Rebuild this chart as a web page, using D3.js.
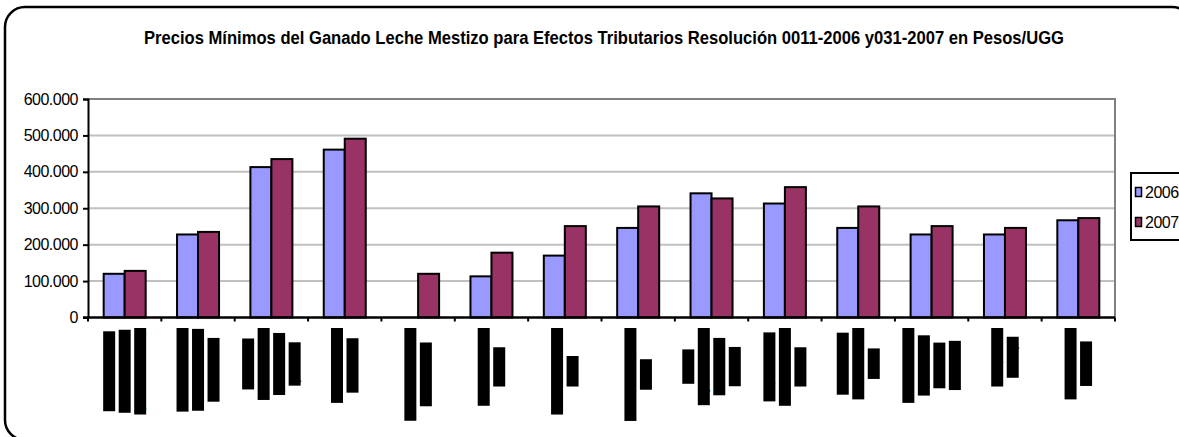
<!DOCTYPE html>
<html>
<head>
<meta charset="utf-8">
<script src="https://cdn.jsdelivr.net/npm/d3@7"></script>
<style>
  html, body { margin: 0; padding: 0; background: #fff; }
  svg { display: block; font-family: "Liberation Sans", Arial, sans-serif; }
</style>
</head>
<body>
<svg id="chart" width="1179" height="437"></svg>
<script>
// Minimum prices of dairy crossbred cattle (Pesos/UGG), by category
const categories = [
  ["Terneras hasta", "un año de edad", "(hembras leche)"],
  ["Hembras de 1 a", "2 años de edad", "sin servicio"],
  ["Hembras", "de 2 a 3 años", "preñadas o", "paridas"],
  ["Vacas de más", "de 3 años"],
  ["Terneros machos", "hasta 1 año"],
  ["Machos de 1 a", "2 años"],
  ["Machos de 2 a 3", "años"],
  ["Machos de más 3", "años"],
  ["Toros", "reproductores", "de más de", "3 años"],
  ["Reproductor", "mestizo de 2 a", "3 años"],
  ["Novillos de", "ceba de 2 a 3", "años"],
  ["Vacas de más", "de 10 años", "de edad", "descarte"],
  ["Bueyes de", "trabajo"],
  ["Vacas horras", "o secas"]
];
const seriesNames = ["2006", "2007"];
const values2006 = [120000, 228000, 413000, 461000, null, 113000, 170000, 246000, 341000, 313000, 246000, 228000, 228000, 267000];
const values2007 = [128000, 235000, 435000, 491000, 120000, 178000, 251000, 305000, 327000, 358000, 305000, 251000, 246000, 273000];
const yTicks = [0, 100000, 200000, 300000, 400000, 500000, 600000];
const seriesColors = ["#9999ff", "#993366"];
const titleText = "Precios Mínimos del Ganado Leche Mestizo para Efectos Tributarios Resolución 0011-2006 y031-2007 en Pesos/UGG";

const svg = d3.select("#chart");

// Outer rounded chart frame
svg.append("rect")
  .attr("x", 5).attr("y", 7).attr("width", 1187).attr("height", 433)
  .attr("rx", 20).attr("ry", 20)
  .attr("fill", "#fff").attr("stroke", "#000").attr("stroke-width", 2.5);

// Title
svg.append("text")
  .attr("x", 604).attr("y", 44)
  .attr("text-anchor", "middle")
  .attr("font-size", 18).attr("font-weight", "bold")
  .attr("textLength", 920).attr("lengthAdjust", "spacingAndGlyphs")
  .text(titleText);

const plot = { left: 88, right: 1115, top: 99, bottom: 317.5 };

const x0 = d3.scaleBand()
  .domain(d3.range(categories.length))
  .range([plot.left, plot.right])
  .paddingInner(0).paddingOuter(0);

const barW = 21;
const x1 = d3.scaleBand()
  .domain(seriesNames)
  .range([x0.bandwidth() / 2 - barW, x0.bandwidth() / 2 + barW]);

const y = d3.scaleLinear().domain([0, 600000]).range([plot.bottom, plot.top]);

// Horizontal gridlines
svg.append("g")
  .selectAll("line")
  .data(yTicks.filter(t => t > 0 && t < 600000))
  .join("line")
  .attr("x1", plot.left).attr("x2", plot.right)
  .attr("y1", d => y(d)).attr("y2", d => y(d))
  .attr("stroke", "#c0c0c0").attr("stroke-width", 2);

// Top and right plot-area border
svg.append("path")
  .attr("d", `M${plot.left},${y(600000)} H${plot.right} V${plot.bottom}`)
  .attr("fill", "none").attr("stroke", "#808080").attr("stroke-width", 2);

// Bars
const series = [values2006, values2007];
const barGroups = svg.append("g").selectAll("g")
  .data(categories.map((c, i) => i))
  .join("g")
  .attr("transform", i => `translate(${x0(i)},0)`);

barGroups.selectAll("rect")
  .data(i => seriesNames.map((s, k) => ({ s, k, v: series[k][i] })).filter(d => d.v != null))
  .join("rect")
  .attr("x", d => x1(d.s))
  .attr("width", x1.bandwidth())
  .attr("y", d => y(d.v))
  .attr("height", d => y(0) - y(d.v))
  .attr("fill", d => seriesColors[d.k])
  .attr("stroke", "#000").attr("stroke-width", 2);

// Y axis
const yAxis = d3.axisLeft(y)
  .tickValues(yTicks)
  .tickSize(5)
  .tickPadding(5)
  .tickFormat(d => d3.format(",")(d).replace(/,/g, "."));

const gy = svg.append("g")
  .attr("transform", `translate(${plot.left},0)`)
  .call(yAxis);
gy.select(".domain").attr("stroke", "#000").attr("stroke-width", 2);
gy.selectAll(".tick line").attr("stroke", "#000").attr("stroke-width", 2);
gy.selectAll(".tick text")
  .attr("font-family", "Liberation Sans, Arial, sans-serif")
  .attr("font-size", 16).attr("letter-spacing", -0.5).attr("fill", "#000");

// X axis line with category boundary ticks
svg.append("line")
  .attr("x1", plot.left - 5).attr("x2", plot.right)
  .attr("y1", plot.bottom).attr("y2", plot.bottom)
  .attr("stroke", "#000").attr("stroke-width", 2.5);
svg.append("g").selectAll("line")
  .data(d3.range(categories.length + 1))
  .join("line")
  .attr("x1", i => plot.left + i * x0.step()).attr("x2", i => plot.left + i * x0.step())
  .attr("y1", plot.bottom).attr("y2", plot.bottom + 4)
  .attr("stroke", "#000").attr("stroke-width", 2);

// Category labels: rotated multi-line text, printed as heavy black blocks
const lineStep = 15.5;
const labelTop = 328;
categories.forEach((lines, i) => {
  const cx = x0(i) + x0.bandwidth() / 2;
  const g = svg.append("g");
  const texts = lines.map((ln, j) => {
    const lx = cx + (j - (lines.length - 1) / 2) * lineStep;
    const t = g.append("text")
      .attr("font-size", 10.5).attr("font-weight", "bold")
      .attr("text-anchor", "middle")
      .attr("dominant-baseline", "central")
      .attr("fill", "#000")
      .text(ln);
    return { t, lx, len: t.node().getComputedTextLength() + 6 };
  });
  const maxLen = d3.max(texts, d => d.len);
  const cy = labelTop + maxLen / 2;
  texts.forEach(d => {
    g.insert("rect", "text")
      .attr("x", d.lx - 6).attr("y", cy - d.len / 2)
      .attr("width", 12).attr("height", d.len)
      .attr("fill", "#000");
    d.t.attr("transform", `translate(${d.lx},${cy}) rotate(-90)`);
  });
});

// Legend
const legend = svg.append("g");
legend.append("rect")
  .attr("x", 1131).attr("y", 173).attr("width", 70).attr("height", 67)
  .attr("fill", "#fff").attr("stroke", "#000").attr("stroke-width", 2);
seriesNames.forEach((name, k) => {
  const cyL = 192 + k * 30;
  legend.append("rect")
    .attr("x", 1135.5).attr("y", cyL - 4.5).attr("width", 6).attr("height", 9)
    .attr("fill", seriesColors[k]).attr("stroke", "#000").attr("stroke-width", 1.5);
  legend.append("text")
    .attr("x", 1145).attr("y", cyL)
    .attr("dominant-baseline", "central")
    .attr("font-size", 16).attr("letter-spacing", -0.5)
    .text(name);
});
</script>
</body>
</html>
